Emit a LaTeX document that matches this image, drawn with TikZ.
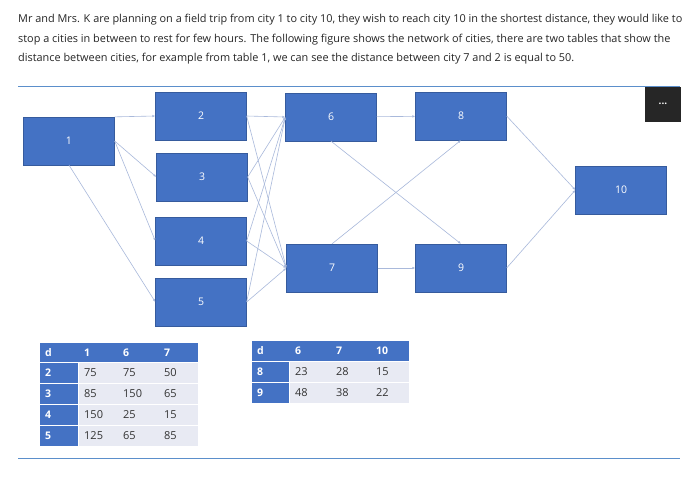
\documentclass[tikz,border=0pt]{standalone}
\usepackage{fontspec}
\setmainfont{Open Sans}
\usetikzlibrary{arrows.meta}
\begin{document}
\begin{tikzpicture}[x=1pt,y=-1pt,
 box/.style={fill=boxblue,draw=boxblue!80!black,line width=0.3pt,minimum width=91pt,minimum height=48pt,inner sep=0pt,text=white,font=\fontsize{10.5}{11}\selectfont},
 ed/.style={draw=edgec,line width=0.6pt,-{Latex[length=3pt,width=2.5pt]}},
 hc/.style={text=white,font=\bfseries\fontsize{10.5}{11}\selectfont,anchor=west,inner sep=0pt},
 cc/.style={text=black!80,font=\fontsize{11}{12}\selectfont,anchor=west,inner sep=0pt}]
\definecolor{boxblue}{HTML}{4472C4}
\definecolor{edgec}{HTML}{A9B9DB}
\definecolor{cellc}{HTML}{E8EAF3}
\definecolor{rulec}{HTML}{5B8FCB}
\useasboundingbox (0,0) rectangle (700,480);
\fill[white] (0,0) rectangle (700,480);
\node[anchor=north west,inner sep=0pt,align=left,font=\fontsize{10.9}{19.5}\selectfont,text=black!85] (txt) at (18,14)
{Mr and Mrs. K are planning on a field trip from city 1 to city 10, they wish to reach city 10 in the shortest distance, they would like to\\
stop a cities in between to rest for few hours. The following figure shows the network of cities, there are two tables that show the\\
distance between cities, for example from table 1, we can see the distance between city 7 and 2 is equal to 50.};
\draw[rulec,line width=0.8pt] (18,86) -- (680,86);
\draw[rulec,line width=0.8pt] (18,458) -- (680,458);
\node[fill=black!85,minimum width=36pt,minimum height=35pt,text=white,inner sep=0pt,font=\bfseries] (dots) at (663,104) {...};
\node[box] (n1) at (69,141) {1};
\node[box] (n2) at (201,116) {2};
\node[box] (n3) at (202,177) {3};
\node[box] (n4) at (201,241) {4};
\node[box] (n5) at (201,302) {5};
\node[box] (n6) at (331,117) {6};
\node[box] (n7) at (332,268) {7};
\node[box] (n8) at (461,116) {8};
\node[box] (n9) at (461,268) {9};
\node[box] (n10) at (621,190) {10};
\draw[ed] (n1.north east) -- (n2.west);
\draw[ed] (n1.east) -- (n3.west);
\draw[ed] (n1.east) -- (n4.west);
\draw[ed] (n1.south) -- (n5.west);
\foreach \s in {n2,n3,n4,n5}{
 \draw[ed] (\s.east) -- (n6.west);
 \draw[ed] (\s.east) -- (n7.west);}
\draw[ed] (n6) -- (n8);
\draw[ed] (n7) -- (n9);
\draw[ed] (n7.north) -- (n8.south);
\draw[ed] (n6.south) -- (n9.north);
\draw[ed] (n8.east) -- (n10.west);
\draw[ed] (n9.east) -- (n10.west);
% table 1
\fill[boxblue] (40,343) rectangle (198,362);
\foreach \x/\t [count=\i] in {40/d,79/1,118/6,159/7}
 \node[hc] (tah\i) at (\x+5,352.5) {\t};
\foreach \r/\a/\b/\c [count=\j] in {2/75/75/50,3/85/150/65,4/150/25/15,5/125/65/85}{
 \fill[boxblue] (40,342+21*\j) rectangle (78,362+21*\j);
 \fill[cellc] (79,342+21*\j) rectangle (198,362+21*\j);
 \node[hc] (tr\j) at (45,352+21*\j) {\r};
 \node[cc] (ta\j) at (84,352+21*\j) {\a};
 \node[cc] (tb\j) at (123,352+21*\j) {\b};
 \node[cc] (tc\j) at (164,352+21*\j) {\c};}
% table 2
\fill[boxblue] (252,341) rectangle (409,361);
\foreach \x/\t [count=\i] in {252/d,290/6,331/7,371/10}
 \node[hc] (tbh\i) at (\x+5,351) {\t};
\foreach \r/\a/\b/\c [count=\j] in {8/23/28/15,9/48/38/22}{
 \fill[boxblue] (252,341+21*\j) rectangle (289,361+21*\j);
 \fill[cellc] (290,341+21*\j) rectangle (409,361+21*\j);
 \node[hc] (ur\j) at (257,351+21*\j) {\r};
 \node[cc] (ua\j) at (295,351+21*\j) {\a};
 \node[cc] (ub\j) at (336,351+21*\j) {\b};
 \node[cc] (uc\j) at (376,351+21*\j) {\c};}
\end{tikzpicture}
\end{document}
